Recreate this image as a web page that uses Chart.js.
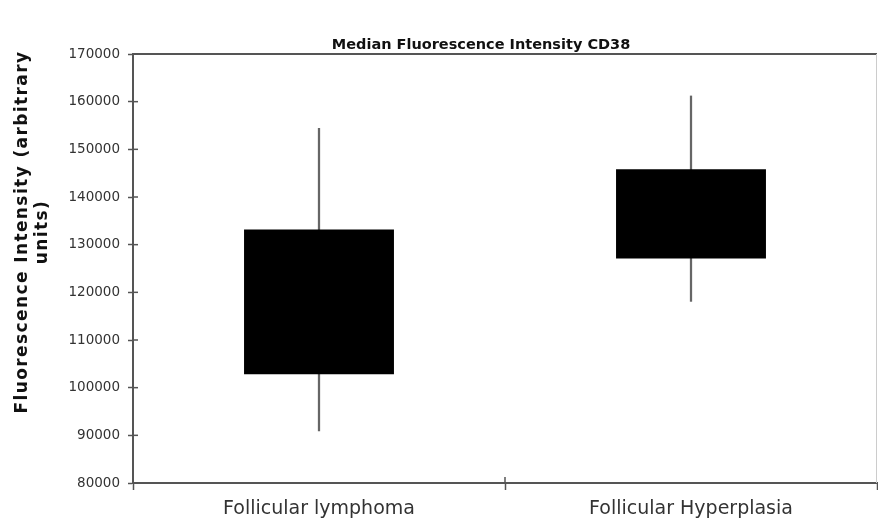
<!DOCTYPE html>
<html>
<head>
<meta charset="utf-8">
<script src="https://cdn.jsdelivr.net/npm/chart.js@4.4.1/dist/chart.umd.min.js"></script>
<style>
  html, body { margin: 0; padding: 0; background: #fff; }
  #wrap { width: 878px; height: 523px; position: relative; }
</style>
</head>
<body>
<div id="wrap"><canvas id="chartCD38"></canvas></div>
<script>
// data
const categories = ['Follicular lymphoma', 'Follicular Hyperplasia']
const boxLow = [102800, 127100]
const boxHigh = [133200, 145800]
const whiskerLow = [90900, 118100]
const whiskerHigh = [154400, 161200]

const chartTitle = 'Median Fluorescence Intensity CD38'
const yTitle = ['Fluorescence Intensity (arbitrary', 'units)']

const axisColor = '#555'
const textColor = '#333'

// titles, top/right frame and the inner half of the tick marks
const decorPlugin = {
    id: 'decor',
    afterDraw(chart) {
        const ctx = chart.ctx
        const a = chart.chartArea
        const y = chart.scales.y
        const x = chart.scales.x

        ctx.save()
        ctx.strokeStyle = axisColor
        ctx.lineWidth = 2
        ctx.beginPath()
        ctx.moveTo(a.left, a.top)
        ctx.lineTo(a.right, a.top)
        ctx.stroke()

        ctx.strokeStyle = '#ccc'
        ctx.lineWidth = 1
        ctx.beginPath()
        ctx.moveTo(a.right - 0.5, a.top)
        ctx.lineTo(a.right - 0.5, a.bottom)
        ctx.stroke()

        // inner ticks
        ctx.strokeStyle = axisColor
        ctx.lineWidth = 1.5
        y.ticks.forEach((t) => {
            const py = y.getPixelForValue(t.value)
            ctx.beginPath()
            ctx.moveTo(a.left, py)
            ctx.lineTo(a.left + 5, py)
            ctx.stroke()
        })
        const mid = (x.getPixelForValue(0) + x.getPixelForValue(1)) / 2
        ctx.beginPath()
        ctx.moveTo(mid, a.bottom)
        ctx.lineTo(mid, a.bottom - 6)
        ctx.stroke()

        // chart title
        ctx.fillStyle = '#111'
        ctx.font = 'bold 14.5px "DejaVu Sans", Verdana, sans-serif'
        ctx.textAlign = 'center'
        ctx.textBaseline = 'middle'
        ctx.fillText(chartTitle, 481, 45)

        // y axis title
        ctx.font = 'bold 17px "DejaVu Sans", Verdana, sans-serif'
        ctx.letterSpacing = '1.4px'
        ctx.translate(23, 232)
        ctx.rotate(-Math.PI / 2)
        ctx.fillText(yTitle[0], 0, 0)
        ctx.fillText(yTitle[1], 0, 20)
        ctx.letterSpacing = '0px'
        ctx.restore()
    }
}

document.addEventListener('DOMContentLoaded', function() {

    const boxes = categories.map((c, i) => [boxLow[i], boxHigh[i]])
    const whiskers = categories.map((c, i) => [whiskerLow[i], whiskerHigh[i]])

    new Chart(document.getElementById('chartCD38').getContext('2d'), {
        type: 'bar',
        data: {
            labels: categories,
            datasets: [
                {
                    label: 'whisker',
                    data: whiskers,
                    backgroundColor: '#666',
                    barThickness: 1.6,
                    grouped: false,
                    order: 2
                },
                {
                    label: 'box',
                    data: boxes,
                    backgroundColor: '#000',
                    borderColor: '#000',
                    borderWidth: 0,
                    barPercentage: 0.403,
                    categoryPercentage: 1,
                    grouped: false,
                    order: 1
                }
            ]
        },
        options: {
            responsive: true,
            maintainAspectRatio: false,
            animation: false,
            layout: { padding: { top: 54, right: 1, left: 0, bottom: 0 } },
            plugins: {
                legend: { display: false },
                tooltip: { enabled: false }
            },
            scales: {
                x: {
                    offset: true,
                    grid: {
                        offset: true,
                        drawOnChartArea: false,
                        tickLength: 7,
                        tickWidth: 1.5,
                        tickColor: axisColor
                    },
                    border: { color: axisColor, width: 2 },
                    ticks: {
                        color: textColor,
                        padding: 8,
                        font: { family: '"DejaVu Sans", Verdana, sans-serif', size: 19 }
                    },
                    afterFit: (s) => { s.height = 40 }
                },
                y: {
                    min: 80000,
                    max: 170000,
                    grid: {
                        drawOnChartArea: false,
                        tickLength: 5,
                        tickWidth: 1.5,
                        tickColor: axisColor
                    },
                    border: { color: axisColor, width: 2 },
                    ticks: {
                        stepSize: 10000,
                        color: textColor,
                        padding: 8,
                        font: { family: '"DejaVu Sans", Verdana, sans-serif', size: 13.5 },
                        callback: (v) => String(v)
                    },
                    afterFit: (s) => { s.width = 133 }
                }
            }
        },
        plugins: [decorPlugin]
    })
})
</script>
</body>
</html>
